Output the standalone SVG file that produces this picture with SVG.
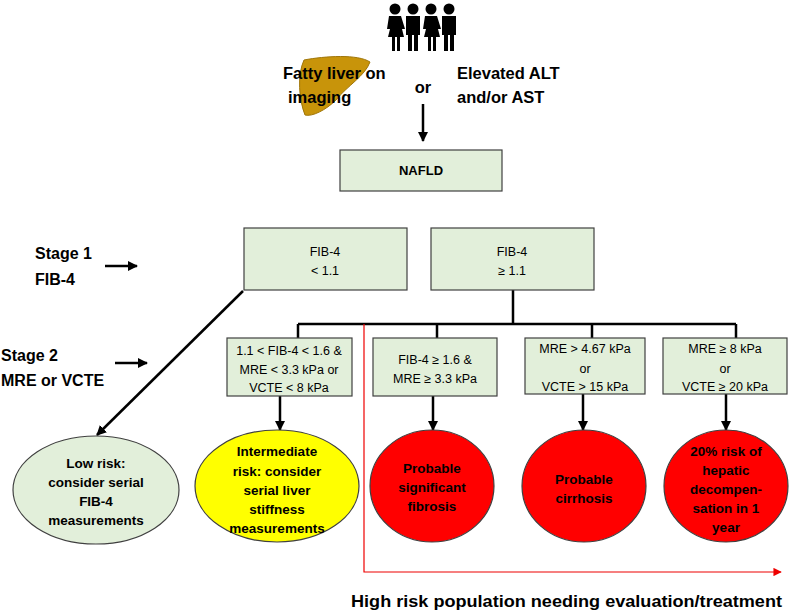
<svg xmlns="http://www.w3.org/2000/svg" width="789" height="613" viewBox="0 0 789 613">
<defs>
<style>
.box{fill:#e2efda;stroke:#404040;stroke-width:1.2}
.t{font-family:"Liberation Sans","Open Sans",sans-serif;font-size:12.5px;fill:#000;text-anchor:middle}
.b{font-family:"Liberation Sans","Open Sans",sans-serif;font-weight:bold;fill:#000}
.e{font-family:"Liberation Sans","Open Sans",sans-serif;font-weight:bold;fill:#000;font-size:13.5px;text-anchor:middle}
.ln{stroke:#000;stroke-width:2.5;fill:none}
</style>
<marker id="ar" viewBox="0 0 10 10" refX="9" refY="5" markerWidth="4" markerHeight="4" orient="auto"><path d="M0,0L10,5L0,10z" fill="#000"/></marker>
<marker id="arr" viewBox="0 0 10 10" refX="9" refY="5" markerWidth="7" markerHeight="7" orient="auto"><path d="M0,0L10,5L0,10z" fill="#e00"/></marker>
</defs>
<rect width="789" height="613" fill="#fff"/>
<g id="people" fill="#000">
<g transform="translate(387,3)"><circle cx="8" cy="6" r="5.5"/><path d="M2,13h12l4,13h-3l2,8h-4v14h-3v-14h-2v14h-3v-14h-4l2-8h-3z"/></g>
<g transform="translate(405,3)"><circle cx="8" cy="6" r="5.5"/><path d="M1,13h14v19h-2v16h-4v-16h-2v16h-4v-16h-2z"/></g>
<g transform="translate(423,3)"><circle cx="8" cy="6" r="5.5"/><path d="M2,13h12l4,13h-3l2,8h-4v14h-3v-14h-2v14h-3v-14h-4l2-8h-3z"/></g>
<g transform="translate(441,3)"><circle cx="8" cy="6" r="5.5"/><path d="M1,13h14v19h-2v16h-4v-16h-2v16h-4v-16h-2z"/></g>
</g>
<g id="liver"><path d="M304,60 C325,56 358,54 370,62 C365,76 347,86 336,100 C326,110 312,117 305,115 C299,100 297,75 304,60z" fill="#c8940a" stroke="#a0760a" stroke-width="1"/></g>
<text class="b" x="283" y="79" font-size="16.5">Fatty liver on</text>
<text class="b" x="288" y="103" font-size="16.5">imaging</text>
<text class="b" x="423" y="93" font-size="16.5" text-anchor="middle">or</text>
<text class="b" x="457" y="79" font-size="16.5">Elevated ALT</text>
<text class="b" x="457" y="103" font-size="16.5">and/or AST</text>
<text class="b" x="35" y="259" font-size="16">Stage 1</text>
<text class="b" x="35" y="285" font-size="16">FIB-4</text>
<text class="b" x="1" y="361" font-size="16">Stage 2</text>
<text class="b" x="1" y="386" font-size="16">MRE or VCTE</text>
<g id="connectors">
<line class="ln" x1="423" y1="104" x2="423" y2="141" stroke-width="1.5" marker-end="url(#ar)"/>
<line class="ln" x1="105" y1="266" x2="137" y2="266" stroke-width="1.5" marker-end="url(#ar)"/>
<line class="ln" x1="115" y1="363" x2="147" y2="363" stroke-width="1.5" marker-end="url(#ar)"/>
<line class="ln" x1="243" y1="291" x2="97" y2="435" stroke-width="2" marker-end="url(#ar)"/>
<path class="ln" d="M513,290V324M298,324H736M298,324V338M437,324V338M592,324V338M736,324V338"/>
<line class="ln" x1="280" y1="396" x2="280" y2="430" marker-end="url(#ar)"/>
<line class="ln" x1="433" y1="396" x2="433" y2="430" marker-end="url(#ar)"/>
<line class="ln" x1="583" y1="394" x2="583" y2="430" marker-end="url(#ar)"/>
<line class="ln" x1="726" y1="394" x2="726" y2="430" marker-end="url(#ar)"/>
<path d="M364,324V572H781" stroke="#e00" stroke-width="1.2" fill="none" marker-end="url(#arr)"/>
</g>
<g id="nafld"><rect class="box" x="340" y="150" width="162" height="41"/><text class="b" x="421" y="175" font-size="13" text-anchor="middle">NAFLD</text></g>
<g id="fib-low"><rect class="box" x="244" y="228" width="163" height="62"/><text class="t" x="325" y="256">FIB-4</text><text class="t" x="325" y="275">&lt; 1.1</text></g>
<g id="fib-high"><rect class="box" x="431" y="228" width="163" height="62"/><text class="t" x="512" y="256">FIB-4</text><text class="t" x="512" y="275">≥ 1.1</text></g>
<g id="s2a"><rect class="box" x="227" y="338" width="125" height="58"/><text class="t" x="289" y="355">1.1 &lt; FIB-4 &lt; 1.6 &amp;</text><text class="t" x="289" y="374">MRE &lt; 3.3 kPa or</text><text class="t" x="289" y="392">VCTE &lt; 8 kPa</text></g>
<g id="s2b"><rect class="box" x="373" y="338" width="124" height="58"/><text class="t" x="435" y="364">FIB-4 ≥ 1.6 &amp;</text><text class="t" x="435" y="383">MRE ≥ 3.3 kPa</text></g>
<g id="s2c"><rect class="box" x="525" y="338" width="120" height="56"/><text class="t" x="585" y="353">MRE &gt; 4.67 kPa</text><text class="t" x="585" y="373">or</text><text class="t" x="585" y="391">VCTE &gt; 15 kPa</text></g>
<g id="s2d"><rect class="box" x="663" y="338" width="124" height="56"/><text class="t" x="725" y="353">MRE ≥ 8 kPa</text><text class="t" x="725" y="373">or</text><text class="t" x="725" y="391">VCTE ≥ 20 kPa</text></g>
<g id="low"><ellipse cx="96" cy="490" rx="83" ry="54" fill="#e2efda" stroke="#404040" stroke-width="1.2"/><text class="e" x="96" y="468">Low risk:</text><text class="e" x="96" y="487">consider serial</text><text class="e" x="96" y="506">FIB-4</text><text class="e" x="96" y="525">measurements</text></g>
<g id="mid"><ellipse cx="277" cy="486" rx="82" ry="56" fill="#ffff00" stroke="#404040" stroke-width="1.2"/><text class="e" x="277" y="456">Intermediate</text><text class="e" x="277" y="476">risk: consider</text><text class="e" x="277" y="495">serial liver</text><text class="e" x="277" y="514">stiffness</text><text class="e" x="277" y="533">measurements</text></g>
<g id="fibrosis"><ellipse cx="432" cy="486" rx="62" ry="56" fill="#ff0000" stroke="#404040" stroke-width="1.2"/><text class="e" x="432" y="473">Probable</text><text class="e" x="432" y="492">significant</text><text class="e" x="432" y="511">fibrosis</text></g>
<g id="cirrhosis"><ellipse cx="584" cy="486" rx="62" ry="56" fill="#ff0000" stroke="#404040" stroke-width="1.2"/><text class="e" x="584" y="484">Probable</text><text class="e" x="584" y="503">cirrhosis</text></g>
<g id="decomp"><ellipse cx="726" cy="486" rx="62" ry="56" fill="#ff0000" stroke="#404040" stroke-width="1.2"/><text class="e" x="726" y="456">20% risk of</text><text class="e" x="726" y="475">hepatic</text><text class="e" x="726" y="494">decompen-</text><text class="e" x="726" y="513">sation in 1</text><text class="e" x="726" y="532">year</text></g>
<text class="b" x="351" y="607" font-size="16.5" textLength="431" lengthAdjust="spacingAndGlyphs">High risk population needing evaluation/treatment</text>
</svg>
